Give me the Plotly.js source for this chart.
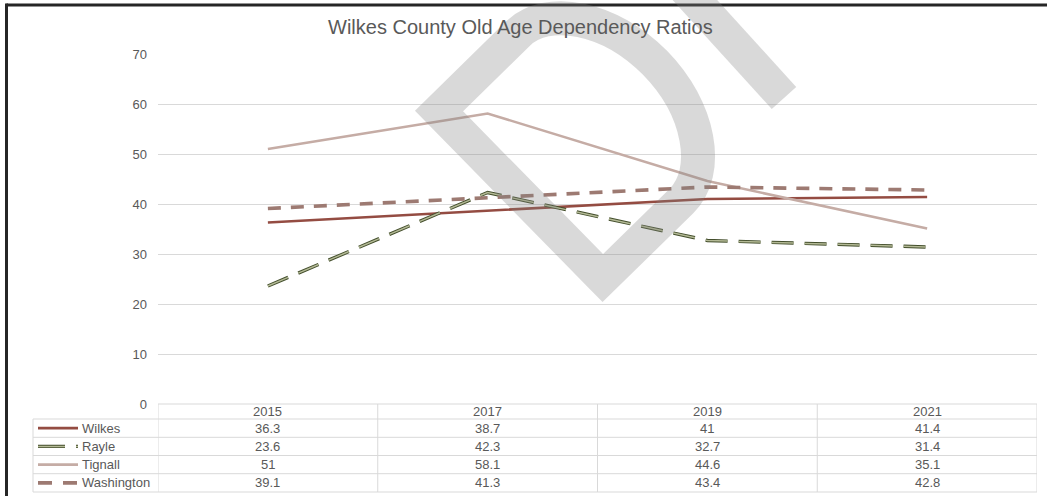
<!DOCTYPE html>
<html>
<head>
<meta charset="utf-8">
<script src="https://cdn.plot.ly/plotly-3.0.1.min.js"></script>
<style>
  html, body { margin: 0; padding: 0; background: #ffffff; }
  #chart { width: 1047px; height: 496px; }
</style>
</head>
<body>
<div id="chart"></div>
<script>
// ---- data ----
const years = ['2015', '2017', '2019', '2021'];
const seriesNames = ['Wilkes', 'Rayle', 'Tignall', 'Washington'];
const wilkes = [36.3, 38.7, 41, 41.4];
const rayle = [23.6, 42.3, 32.7, 31.4];
const tignall = [51, 58.1, 44.6, 35.1];
const washington = [39.1, 41.3, 43.4, 42.8];
const yTicks = [0, 10, 20, 30, 40, 50, 60, 70];

// ---- geometry (pixels) ----
const W = 1047, H = 496;
const PL = 158, PR = 1037, PT = 54, PB = 404;
const px = x => (x - PL) / (PR - PL);
const py = y => (PB - y) / (PB - PT);

const FONT = '"Liberation Sans", Arial, sans-serif';
const TXT = '#595959';
const GRID = '#d9d9d9';

const styles = {
  Wilkes:     [{color: '#944c42', width: 2.6, dash: 'solid', key: 'solid'}],
  Rayle:      [{color: '#434e2c', width: 3.4, dash: '22px,11px', key: '27px,11px'},
               {color: '#b3b995', width: 1.5, dash: '22px,11px', key: '27px,11px'}],
  Tignall:    [{color: '#c5aca5', width: 2.6, dash: 'solid', key: 'solid'}],
  Washington: [{color: '#9d7a72', width: 3.6, dash: '13px,10px', key: '14px,11px'}]
};
const values = {Wilkes: wilkes, Rayle: rayle, Tignall: tignall, Washington: washington};

const traces = [];
seriesNames.forEach(name => {
  styles[name].forEach((st, k) => {
    traces.push({
      type: 'scatter', mode: 'lines', name: name,
      x: years, y: values[name],
      line: {color: st.color, width: st.width, dash: st.dash},
      showlegend: false, hoverinfo: k === 0 ? 'x+y+name' : 'skip'
    });
  });
});

// ---- data table under the plot ----
const shapes = [];
const annotations = [];
const rowY = [404, 419, 437.3, 455.5, 473.7, 492];
const LEG_L = 33;
function hline(x0, x1, y, xref) {
  shapes.push({type: 'line', xref: xref, yref: 'paper', x0: x0, x1: x1, y0: py(y), y1: py(y),
    line: {color: GRID, width: 1}, layer: 'below'});
}
function vline(x, y0, y1, xref) {
  shapes.push({type: 'line', xref: xref, yref: 'paper', x0: x, x1: x, y0: py(y0), y1: py(y1),
    line: {color: GRID, width: 1}, layer: 'below'});
}
hline(0, 1, rowY[0], 'paper');
for (let r = 1; r < rowY.length; r++) hline(px(LEG_L), 1, rowY[r], 'paper');
vline(px(LEG_L), rowY[1], rowY[5], 'paper');
for (let i = 0; i <= years.length; i++) vline(i - 0.5, rowY[0], rowY[5], 'x');

years.forEach((yr, i) => {
  annotations.push({xref: 'x', yref: 'paper', x: i, y: py((rowY[0] + rowY[1]) / 2),
    text: yr, showarrow: false, font: {family: FONT, size: 13, color: TXT}, xanchor: 'center', yanchor: 'middle'});
});
seriesNames.forEach((name, r) => {
  const yc = (rowY[r + 1] + rowY[r + 2]) / 2;
  values[name].forEach((v, i) => {
    annotations.push({xref: 'x', yref: 'paper', x: i, y: py(yc),
      text: String(v), showarrow: false, font: {family: FONT, size: 13, color: TXT}, xanchor: 'center', yanchor: 'middle'});
  });
  annotations.push({xref: 'paper', yref: 'paper', x: px(80), y: py(yc),
    text: name, showarrow: false, font: {family: FONT, size: 13, color: TXT}, xanchor: 'left', yanchor: 'middle'});
  styles[name].forEach(st => {
    shapes.push({type: 'line', xref: 'paper', yref: 'paper', x0: px(38), x1: px(78), y0: py(yc), y1: py(yc),
      line: {color: st.color, width: st.width, dash: st.key}});
  });
});

// ---- frame lines (top and left) ----
shapes.push({type: 'line', xref: 'paper', yref: 'paper', x0: px(6.5), x1: px(W + 5), y0: py(5), y1: py(5),
  line: {color: '#262626', width: 3}});
shapes.push({type: 'line', xref: 'paper', yref: 'paper', x0: px(6.5), x1: px(6.5), y0: py(3.5), y1: py(H + 5),
  line: {color: '#262626', width: 3}});

// ---- watermark (large grey letter strokes) ----
const ox = 439, oy = 111;
const U = [0.70, 0.714], V = [0.714, -0.70];
function P(u, v) {
  const x = ox + U[0] * u + V[0] * v;
  const y = oy + U[1] * u + V[1] * v;
  return px(x).toFixed(5) + ',' + py(y).toFixed(5);
}
const dPath = 'M' + P(234, 0) + ' L' + P(0, 0) + ' L' + P(0, 110) +
  ' C' + P(0, 152) + ' ' + P(53, 188) + ' ' + P(117, 188) +
  ' C' + P(181, 188) + ' ' + P(234, 152) + ' ' + P(234, 110) + ' Z';
shapes.push({type: 'path', xref: 'paper', yref: 'paper', path: dPath, layer: 'above',
  line: {color: 'rgba(128,128,128,0.30)', width: 34}, fillcolor: 'rgba(0,0,0,0)'});
shapes.push({type: 'line', xref: 'paper', yref: 'paper', x0: px(684), y0: py(-12), x1: px(784), y1: py(98),
  layer: 'above', line: {color: 'rgba(128,128,128,0.30)', width: 33}});

const layout = {
  width: W, height: H,
  margin: {l: PL, r: W - PR, t: PT, b: H - PB, autoexpand: false},
  paper_bgcolor: '#ffffff', plot_bgcolor: '#ffffff',
  font: {family: FONT, size: 13, color: TXT},
  title: {text: 'Wilkes County Old Age Dependency Ratios', font: {family: FONT, size: 20, color: TXT},
    xref: 'container', yref: 'container', x: 0.497, xanchor: 'center', y: 1 - 27 / H, yanchor: 'middle'},
  xaxis: {type: 'category', range: [-0.5, years.length - 0.5], showticklabels: false, showgrid: false,
    zeroline: false, showline: false, ticks: '', fixedrange: true},
  yaxis: {range: [0, 70], tickvals: yTicks, ticktext: yTicks.map(String), showgrid: true, gridcolor: GRID, gridwidth: 1,
    zeroline: false, showline: false, ticks: '', ticklabelstandoff: 10,
    tickfont: {family: FONT, size: 13, color: TXT}, fixedrange: true},
  showlegend: false,
  shapes: shapes,
  annotations: annotations
};

Plotly.newPlot('chart', traces, layout, {displayModeBar: false, staticPlot: true});
</script>
</body>
</html>
